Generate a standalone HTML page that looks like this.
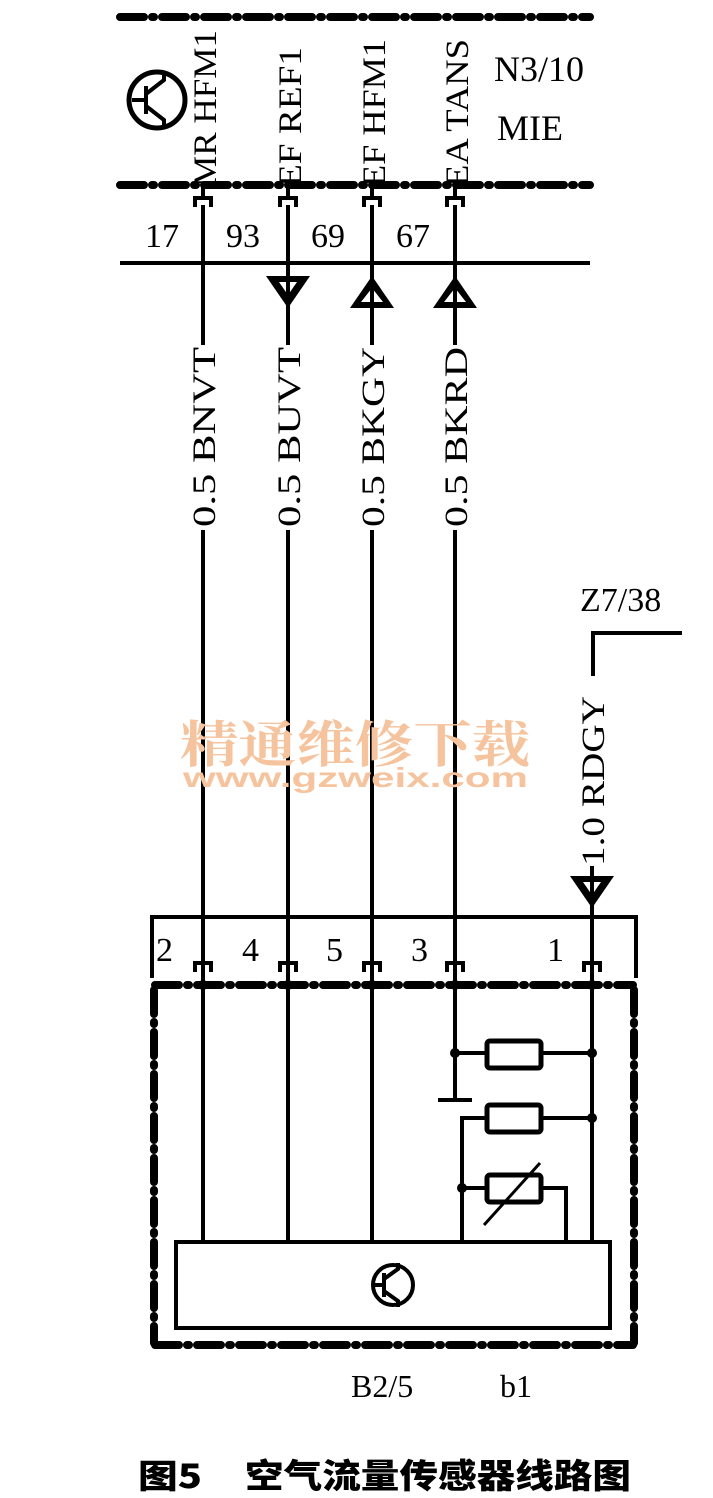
<!DOCTYPE html>
<html><head><meta charset="utf-8"><style>
html,body{margin:0;padding:0;background:#fff;}
svg{display:block;}
text{font-family:"Liberation Serif","Noto Serif CJK SC",serif;fill:#000;}
</style></head><body>
<svg width="713" height="1498" viewBox="0 0 713 1498" xmlns="http://www.w3.org/2000/svg">
<g stroke="#000" fill="none">
<line x1="120" y1="17" x2="590" y2="17" stroke-width="8" stroke-dasharray="24,8,2,8" stroke-linecap="round"/>
<line x1="120" y1="185" x2="590" y2="185" stroke-width="8" stroke-dasharray="24,8,2,8" stroke-linecap="round"/>
<g stroke-width="4">
<path d="M195,207 v-9 h16 v9"/><path d="M280,207 v-9 h16 v9"/><path d="M364,207 v-9 h16 v9"/><path d="M447,207 v-9 h16 v9"/>
<line x1="203" y1="185" x2="203" y2="200"/><line x1="288" y1="185" x2="288" y2="200"/><line x1="372" y1="185" x2="372" y2="200"/><line x1="455" y1="185" x2="455" y2="200"/>
</g>
<line x1="120" y1="263" x2="590" y2="263" stroke-width="4"/>
<g stroke-width="4">
<line x1="203" y1="205" x2="203" y2="345"/><line x1="203" y1="530" x2="203" y2="1241"/>
<line x1="288" y1="205" x2="288" y2="345"/><line x1="288" y1="530" x2="288" y2="1241"/>
<line x1="372" y1="205" x2="372" y2="345"/><line x1="372" y1="530" x2="372" y2="1241"/>
<line x1="455" y1="205" x2="455" y2="345"/><line x1="455" y1="530" x2="455" y2="1100"/>
<line x1="592" y1="905" x2="592" y2="1241"/>
<line x1="592" y1="866" x2="592" y2="880"/>
</g>
</g>
<g fill="#000">
<path d="M266,276 L310,276 L288,308 Z"/><path d="M279,282 L297,282 L288,295 Z" fill="#fff"/>
<path d="M350,308 L394,308 L372,276 Z"/><path d="M361,302 L383,302 L372,288 Z" fill="#fff"/>
<path d="M433,308 L477,308 L455,276 Z"/><path d="M444,302 L466,302 L455,288 Z" fill="#fff"/>
<path d="M570,876 L614,876 L592,908 Z"/><path d="M583,882 L601,882 L592,895 Z" fill="#fff"/>
</g>
<g stroke="#000" stroke-width="4" fill="none">
<line x1="288" y1="270" x2="288" y2="308"/><line x1="372" y1="280" x2="372" y2="308"/><line x1="455" y1="280" x2="455" y2="308"/><line x1="592" y1="876" x2="592" y2="908"/>
<path d="M593,676 V633 H682"/>
<path d="M152,978 V917 H636 V978"/>
<path d="M195,972 v-9 h16 v9"/><path d="M280,972 v-9 h16 v9"/><path d="M364,972 v-9 h16 v9"/><path d="M447,972 v-9 h16 v9"/><path d="M584,972 v-9 h16 v9"/>
</g>
<g stroke="#000" stroke-width="8" fill="none" stroke-dasharray="24,8,2,8" stroke-linecap="round">
<line x1="155" y1="985" x2="633" y2="985"/>
<line x1="155" y1="1345" x2="633" y2="1345"/>
<line x1="154" y1="990" x2="154" y2="1343"/>
<line x1="634" y1="990" x2="634" y2="1343"/>
</g>
<g stroke="#000" stroke-width="4" fill="none">
<rect x="176" y="1242" width="434" height="86"/>
<line x1="455" y1="1053" x2="487" y2="1053"/><rect x="487" y="1041" width="54" height="27" rx="3" stroke-width="5"/><line x1="541" y1="1053" x2="592" y2="1053"/>
<line x1="438" y1="1100" x2="472" y2="1100"/>
<path d="M462,1241 V1118 H487"/><rect x="487" y="1105" width="54" height="27" rx="3" stroke-width="5"/><line x1="541" y1="1118" x2="592" y2="1118"/>
<line x1="462" y1="1188" x2="487" y2="1188"/><rect x="487" y="1175" width="54" height="27" rx="3" stroke-width="5"/><path d="M541,1188 H566 V1241"/>
<line x1="484" y1="1225" x2="540" y2="1163" stroke-width="3"/>
<circle cx="157" cy="100" r="28" stroke-width="5"/><path d="M132,100 h14 M146,86 v28 M146,94 l18,-14 v-8 M146,106 l18,14 v8"/>
<circle cx="393" cy="1285" r="20"/><path d="M372,1285 h12 M384,1273 v24 M384,1279 l14,-10 v-6 M384,1291 l14,10 v6"/>
</g>
<g fill="#000">
<circle cx="455" cy="1053" r="5"/><circle cx="592" cy="1053" r="5"/><circle cx="592" cy="1118" r="5"/><circle cx="462" cy="1188" r="5"/>
<circle cx="203" cy="985" r="5"/><circle cx="288" cy="985" r="5"/><circle cx="372" cy="985" r="5"/><circle cx="455" cy="985" r="5"/><circle cx="592" cy="985" r="5"/>
</g>
<g font-size="34">
<text x="145" y="247">17</text><text x="226" y="247">93</text><text x="311" y="247">69</text><text x="396" y="247">67</text>
<text x="494" y="81" font-size="36">N3/10</text><text x="497" y="140" font-size="36">MIE</text>
<text x="580" y="611">Z7/38</text>
<text x="156" y="961">2</text><text x="242" y="961">4</text><text x="326" y="961">5</text><text x="411" y="961">3</text><text x="547" y="961">1</text>
<text x="351" y="1397" font-size="32">B2/5</text><text x="500" y="1397" font-size="32">b1</text>
</g>
<g font-size="33">
<text transform="translate(216,187) rotate(-90)" textLength="157" lengthAdjust="spacingAndGlyphs">MR HFM1</text>
<text transform="translate(301,187) rotate(-90)" textLength="140" lengthAdjust="spacingAndGlyphs">EF REF1</text>
<text transform="translate(385,187) rotate(-90)" textLength="148" lengthAdjust="spacingAndGlyphs">EF HFM1</text>
<text transform="translate(468,187) rotate(-90)" textLength="148" lengthAdjust="spacingAndGlyphs">EA TANS</text>
<text transform="translate(215,527) rotate(-90)" textLength="180" lengthAdjust="spacingAndGlyphs">0.5 BNVT</text>
<text transform="translate(300,527) rotate(-90)" textLength="180" lengthAdjust="spacingAndGlyphs">0.5 BUVT</text>
<text transform="translate(384,527) rotate(-90)" textLength="180" lengthAdjust="spacingAndGlyphs">0.5 BKGY</text>
<text transform="translate(467,527) rotate(-90)" textLength="180" lengthAdjust="spacingAndGlyphs">0.5 BKRD</text>
<text transform="translate(604,866) rotate(-90)" textLength="170" lengthAdjust="spacingAndGlyphs">1.0 RDGY</text>
</g>
<text x="180" y="762" font-size="50" style="font-family:'Noto Serif CJK SC',serif;fill:#f5c39d;font-weight:bold" textLength="350" lengthAdjust="spacingAndGlyphs">精通维修下载</text>
<text x="183" y="787" font-size="28" style="font-family:'Liberation Sans',sans-serif;fill:#f5c39d;font-weight:bold" textLength="345" lengthAdjust="spacingAndGlyphs">www.gzweix.com</text>
<text x="138" y="1488" font-size="33" style="font-family:'Noto Sans CJK SC',sans-serif;font-weight:900" textLength="64" lengthAdjust="spacingAndGlyphs">图5</text>
<text x="245" y="1488" font-size="34" style="font-family:'Noto Sans CJK SC',sans-serif;font-weight:900" textLength="386" lengthAdjust="spacingAndGlyphs">空气流量传感器线路图</text>
</svg>
</body></html>
